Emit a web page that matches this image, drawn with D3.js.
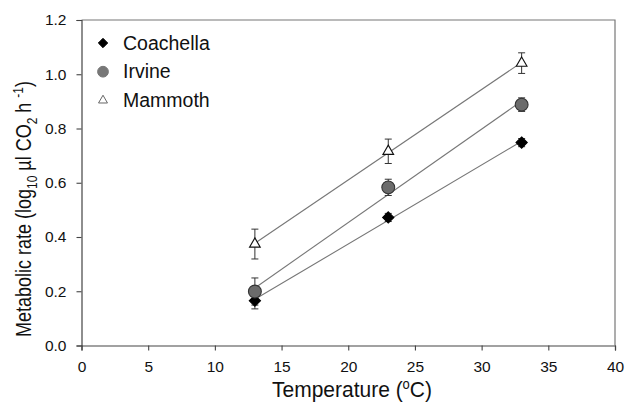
<!DOCTYPE html>
<html>
<head>
<meta charset="utf-8">
<script src="https://cdn.jsdelivr.net/npm/d3@7"></script>
<style>
  body { margin: 0; background: #fff; }
  text { font-family: Arial, "Liberation Sans", sans-serif; fill: #111; }
</style>
</head>
<body>
<div id="vis"></div>
<script>
// data
const temps = [13, 23, 33];
const coachella = [0.165, 0.472, 0.748];
const coachellaErr = [0.03, 0.015, 0.015];
const irvine = [0.199, 0.583, 0.888];
const irvineErr = [0.05, 0.03, 0.025];
const mammoth = [0.374, 0.716, 1.041];
const mammothErr = [0.055, 0.045, 0.038];
const xTicks = [0, 5, 10, 15, 20, 25, 30, 35, 40];
const yTicks = [0.0, 0.2, 0.4, 0.6, 0.8, 1.0, 1.2];
const seriesNames = ["Coachella", "Irvine", "Mammoth"];

const WIDTH = 626, HEIGHT = 402;
const margin = {top: 20, right: 11, bottom: 56.5, left: 81.5};

const svg = d3.select("#vis").append("svg")
  .attr("width", WIDTH)
  .attr("height", HEIGHT);

const x = d3.scaleLinear().domain([0, 40]).range([margin.left, WIDTH - margin.right]);
const y = d3.scaleLinear().domain([0, 1.2]).range([HEIGHT - margin.bottom, margin.top]);

const axisCol = "#444";

// frame (top + right)
svg.append("path")
  .attr("d", `M${x(0)},${y(1.2)}H${x(40)}V${y(0)}`)
  .attr("fill", "none").attr("stroke", "#777").attr("stroke-width", 1.2);

const xAxis = svg.append("g")
  .attr("transform", `translate(0,${y(0)})`)
  .call(d3.axisBottom(x).tickValues(xTicks).tickSize(5).tickPadding(10).tickFormat(d3.format("d")));
const yAxis = svg.append("g")
  .attr("transform", `translate(${x(0)},0)`)
  .call(d3.axisLeft(y).tickValues(yTicks).tickSize(5).tickPadding(10).tickFormat(d3.format(".1f")));

[xAxis, yAxis].forEach(g => {
  g.select(".domain").attr("stroke", axisCol).attr("stroke-width", 1.2);
  g.selectAll(".tick line").attr("stroke", axisCol).attr("stroke-width", 1.1);
  g.selectAll(".tick text").style("font-size", "15.5px").attr("fill", "#111");
});

// axis titles
const xt = svg.append("text")
  .attr("transform", "translate(352,396.5) scale(1,1.08)")
  .attr("text-anchor", "middle")
  .style("font-size", "21px");
xt.append("tspan").text("Temperature (");
xt.append("tspan").attr("dy", -7).style("font-size", "13px").text("o");
xt.append("tspan").attr("dy", 7).text("C)");

const yt = svg.append("text")
  .attr("transform", "translate(31,337) rotate(-90) scale(1,1.18)")
  .attr("text-anchor", "start")
  .style("font-size", "18px");
yt.append("tspan").text("Metabolic rate (log");
yt.append("tspan").attr("dy", 5).style("font-size", "12px").text("10");
yt.append("tspan").attr("dy", -5).text(" µl CO");
yt.append("tspan").attr("dy", 5).style("font-size", "12px").text("2");
yt.append("tspan").attr("dy", -5).text(" h ");
yt.append("tspan").attr("dy", -7).style("font-size", "12px").text("-1");
yt.append("tspan").attr("dy", 7).text(")");

const series = [
  {name: seriesNames[0], vals: coachella, err: coachellaErr, sym: d3.symbolDiamond2, size: 80, fill: "#000", stroke: "#000"},
  {name: seriesNames[1], vals: irvine, err: irvineErr, sym: d3.symbolCircle, size: 130, fill: "#6b6b6b", stroke: "#333"},
  {name: seriesNames[2], vals: mammoth, err: mammothErr, sym: d3.symbolTriangle2, size: 82, fill: "#fff", stroke: "#111"}
];

// regression lines from the points
series.forEach(s => {
  const mx = d3.mean(temps), my = d3.mean(s.vals);
  const slope = d3.sum(temps, (t, i) => (t - mx) * (s.vals[i] - my)) / d3.sum(temps, t => (t - mx) ** 2);
  const f = t => my + slope * (t - mx);
  svg.append("line")
    .attr("x1", x(temps[0])).attr("y1", y(f(temps[0])))
    .attr("x2", x(temps[2])).attr("y2", y(f(temps[2])))
    .attr("stroke", "#777").attr("stroke-width", 1.1);
});

// error bars
series.forEach(s => {
  const g = svg.append("g").attr("stroke", "#333").attr("stroke-width", 1);
  temps.forEach((t, i) => {
    const cx = x(t), y1 = y(s.vals[i] + s.err[i]), y2 = y(s.vals[i] - s.err[i]);
    g.append("line").attr("x1", cx).attr("x2", cx).attr("y1", y1).attr("y2", y2);
    g.append("line").attr("x1", cx - 3.5).attr("x2", cx + 3.5).attr("y1", y1).attr("y2", y1);
    g.append("line").attr("x1", cx - 3.5).attr("x2", cx + 3.5).attr("y1", y2).attr("y2", y2);
  });
});

// markers
series.forEach(s => {
  svg.append("g").selectAll("path")
    .data(temps)
    .join("path")
    .attr("transform", (t, i) => `translate(${x(t)},${y(s.vals[i])})`)
    .attr("d", d3.symbol().type(s.sym).size(s.size))
    .attr("fill", s.fill).attr("stroke", s.stroke).attr("stroke-width", 1.1);
});

// legend
const legend = svg.append("g");
series.forEach((s, i) => {
  const ly = 43 + i * 28.7;
  legend.append("path")
    .attr("transform", `translate(103,${ly})`)
    .attr("d", d3.symbol().type(s.sym).size(s.size * 0.7))
    .attr("fill", i === 1 ? "#777" : s.fill)
    .attr("stroke", i === 2 ? "#666" : (i === 1 ? "#777" : s.stroke))
    .attr("stroke-width", 1);
  legend.append("text")
    .attr("x", 123).attr("y", ly + 6.5)
    .style("font-size", "19.5px")
    .text(s.name);
});
</script>
</body>
</html>
